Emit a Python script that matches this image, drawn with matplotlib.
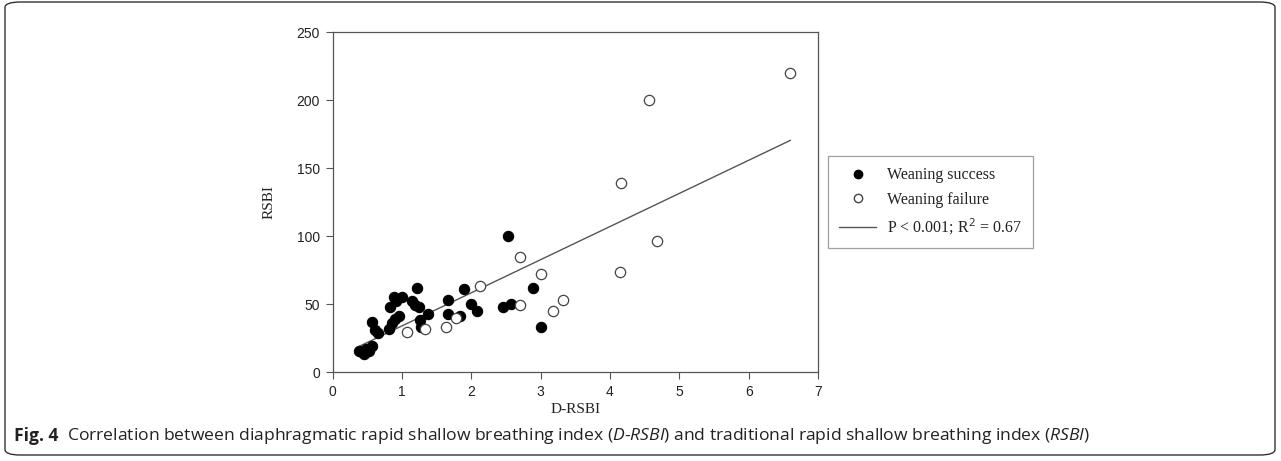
import numpy as np
import matplotlib.pyplot as plt
from matplotlib.patches import FancyBboxPatch
from matplotlib.lines import Line2D

plt.rcParams["mathtext.fontset"] = "custom"
plt.rcParams["mathtext.rm"] = "Open Sans"
plt.rcParams["mathtext.it"] = "Open Sans:italic"

# Weaning success (filled circles)
success_x = [0.38, 0.46, 0.52, 0.48, 0.57, 0.43, 0.57, 0.61, 0.65, 0.81, 0.83,
             0.86, 0.90, 0.96, 0.89, 1.00, 0.92, 1.14, 1.19, 1.25, 1.22, 1.26,
             1.28, 1.38, 1.67, 1.67, 1.84, 1.90, 2.00, 2.08, 2.46, 2.58, 2.53,
             2.89, 3.01]
success_y = [15.5, 13.6, 15.5, 17, 19.5, 15, 37, 30.8, 28.4, 32, 47.5,
             36.2, 38.7, 41.4, 55.4, 55.4, 52, 52.4, 49.3, 48, 61.6, 38.2,
             33, 43, 53, 42.4, 41, 60.8, 50, 44.8, 48, 50, 100,
             62, 33]

# Weaning failure (open circles)
failure_x = [1.08, 1.34, 1.63, 1.78, 2.12, 2.70, 2.71, 3.01, 3.18, 3.33,
             4.15, 4.16, 4.57, 4.68, 6.60]
failure_y = [29.5, 31.3, 33.2, 39.4, 63.3, 49, 84.7, 72.2, 45, 53.2,
             73.4, 139, 200, 96.5, 220]

# regression line
fit_intercept = 9.5
fit_slope = 24.4

axis_grey = "#555555"

fig = plt.figure(figsize=(12.81, 4.61), dpi=100)

# outer rounded frame of the figure panel
frame = FancyBboxPatch((5 / 1281, 6 / 461), 1270 / 1281, 453 / 461,
                       boxstyle="round,pad=0,rounding_size=0.012",
                       transform=fig.transFigure, fill=False,
                       edgecolor="#333333", linewidth=1.0)
fig.patches.append(frame)

ax = fig.add_axes([332.5 / 1281, 89 / 461, 485.5 / 1281, 339.5 / 461])

ax.scatter(success_x, success_y, s=55, facecolor="black", edgecolor="black",
           linewidth=0.8, zorder=3)
ax.scatter(failure_x, failure_y, s=55, facecolor="white", edgecolor="#444444",
           linewidth=0.9, zorder=3)

all_x = np.array(success_x + failure_x)
line_x = np.array([all_x.min(), all_x.max()])
ax.plot(line_x, fit_intercept + fit_slope * line_x, color="#555555",
        linewidth=1.0, zorder=2)

ax.set_xlim(0, 7)
ax.set_ylim(0, 250)
ax.set_xticks(range(0, 8))
ax.set_yticks(range(0, 251, 50))

for side in ["left", "right", "top", "bottom"]:
    ax.spines[side].set_color(axis_grey)
    ax.spines[side].set_linewidth(0.9)

ax.tick_params(direction="out", length=5, width=0.8, color=axis_grey,
               labelcolor="#222222", labelsize=10, pad=4,
               top=False, right=False)
for lbl in ax.get_xticklabels() + ax.get_yticklabels():
    lbl.set_family("Liberation Sans")

ax.set_xlabel("D-RSBI", family="Liberation Serif", fontsize=11,
              color="#222222", labelpad=3)
ax.set_ylabel("RSBI", family="Liberation Serif", fontsize=11,
              color="#222222", labelpad=15)

handles = [
    Line2D([], [], linestyle="none", marker="o", markersize=6,
           markerfacecolor="black", markeredgecolor="black"),
    Line2D([], [], linestyle="none", marker="o", markersize=6,
           markerfacecolor="white", markeredgecolor="#444444"),
    Line2D([], [], color="#555555", linewidth=1.0),
]
labels = ["Weaning success", "Weaning failure",
          "P < 0.001; R$^2$ = 0.67"]
leg = fig.legend(handles, labels, loc="upper left",
                 bbox_to_anchor=(828 / 1281, 1 - 156 / 461),
                 borderaxespad=0, frameon=True, fancybox=False,
                 borderpad=0.7, labelspacing=0.55, handlelength=2.3,
                 handletextpad=0.7,
                 prop={"family": "Liberation Serif", "size": 11.5})
leg.get_frame().set_edgecolor("#888888")
leg.get_frame().set_linewidth(0.9)
for t in leg.get_texts():
    t.set_color("#222222")

# caption
fig.text(14 / 1281, 1 - 436 / 461, "Fig. 4", family="Open Sans",
         fontweight="bold", fontsize=12.6, va="center", ha="left",
         color="#222222")
fig.text(67 / 1281, 1 - 436 / 461,
         "Correlation between diaphragmatic rapid shallow breathing index ("
         "$\\it{D}$-$\\it{RSBI}$) and traditional rapid shallow breathing index "
         "($\\it{RSBI}$)",
         family="Open Sans", fontsize=12.6, va="center", ha="left",
         color="#222222")

fig.savefig("out.png", dpi=100)
